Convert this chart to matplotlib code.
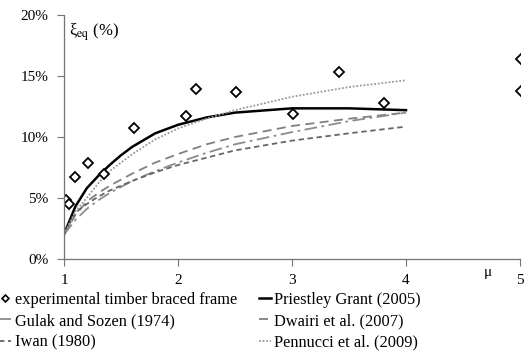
import matplotlib
matplotlib.use("Agg")
import matplotlib.pyplot as plt
from matplotlib.lines import Line2D

plt.rcParams['font.family'] = ['Liberation Serif', 'DejaVu Serif']
plt.rcParams['mathtext.fontset'] = 'stix'

# Test results (ductility, equivalent damping in %)
mu_test = [1.02, 1.04, 1.10, 1.21, 1.35, 1.61, 2.07, 2.16, 2.51, 3.01, 3.41, 3.81, 5.01, 5.01]
xi_test = [4.8, 4.5, 6.7, 7.9, 7.0, 10.7, 11.7, 13.9, 13.7, 11.9, 15.3, 12.75, 16.4, 13.8]

# Damping models, read along the ductility axis
mu_model = [1.0, 1.1, 1.2, 1.3, 1.4, 1.5, 1.6, 1.8, 2.0, 2.25, 2.5, 3.0, 3.5, 4.0]
xi_priestley = [2.0, 4.3, 5.8, 6.8, 7.7, 8.5, 9.2, 10.3, 11.0, 11.6, 12.0, 12.35, 12.35, 12.2]
xi_gulak = [2.0, 3.2, 4.1, 4.8, 5.4, 5.9, 6.4, 7.2, 7.9, 8.7, 9.4, 10.4, 11.3, 12.0]
xi_dwairi = [2.0, 3.6, 4.7, 5.4, 6.0, 6.5, 7.0, 7.9, 8.6, 9.4, 10.0, 10.9, 11.5, 12.0]
xi_iwan = [2.0, 3.8, 4.5, 5.1, 5.6, 6.0, 6.4, 7.1, 7.7, 8.3, 8.9, 9.7, 10.3, 10.85]
xi_pennucci = [2.0, 3.9, 5.0, 6.2, 7.2, 7.9, 8.6, 9.8, 10.7, 11.5, 12.2, 13.3, 14.1, 14.65]

x_ticks = [1, 2, 3, 4, 5]
y_ticks = [0, 5, 10, 15, 20]
y_ticklabels = ['0%', '5%', '10%', '15%', '20%']

fig = plt.figure(figsize=(5.29, 3.6), dpi=100)
ax = fig.add_axes([0.121, 0.281, 0.862, 0.677])

ax.plot(mu_model, xi_priestley, color='black', lw=1.8, ls='-')
ax.plot(mu_model, xi_dwairi, color='0.5', lw=1.3, ls=(0, (5, 3)))
ax.plot(mu_model, xi_gulak, color='0.55', lw=1.3, ls=(0, (7, 2.5, 1.5, 2.5)))
ax.plot(mu_model, xi_iwan, color='0.4', lw=1.3, ls=(0, (3, 2)))
ax.plot(mu_model, xi_pennucci, color='0.6', lw=1.3, ls=(0, (1, 1)))
ax.plot(mu_test, xi_test, ls='none', marker='D', ms=5, mfc='white', mec='black', mew=1.3)

ax.set_xlim(1, 5)
ax.set_ylim(0, 20)
ax.set_xticks(x_ticks)
ax.set_yticks(y_ticks)
ax.set_yticklabels(y_ticklabels)
ax.tick_params(direction='out', length=5, width=0.8, color='0.45', labelsize=11, pad=6)
for s in ['top', 'right']:
    ax.spines[s].set_visible(False)
for s in ['left', 'bottom']:
    ax.spines[s].set_color('0.45')
    ax.spines[s].set_linewidth(0.9)

ax.text(0.012, 0.93, r'ξ$_{\rm eq}$ (%)', transform=ax.transAxes, fontsize=12, va='center')
ax.text(0.93, -0.055, 'μ', transform=ax.transAxes, fontsize=11, ha='center', va='center')

handles = [
    Line2D([], [], ls='none', marker='D', ms=3.5, mfc='white', mec='black', mew=1.2),
    Line2D([], [], color='0.55', lw=1.3, ls=(0, (7, 2.5, 1.5, 2.5))),
    Line2D([], [], color='0.4', lw=1.3, ls=(0, (3, 2))),
    Line2D([], [], color='black', lw=1.8),
    Line2D([], [], color='0.5', lw=1.3, ls=(0, (5, 3))),
    Line2D([], [], color='0.6', lw=1.3, ls=(0, (1, 1))),
]
labels = [
    'experimental timber braced frame',
    'Gulak and Sozen (1974)',
    'Iwan (1980)',
    'Priestley Grant (2005)',
    'Dwairi et al. (2007)',
    'Pennucci et al. (2009)',
]
fig.legend(handles, labels, ncol=2, loc='lower left', bbox_to_anchor=(-0.002, 0.026),
           frameon=False, fontsize=11.8, handlelength=0.75, handletextpad=0.2,
           columnspacing=1.35, labelspacing=0.33, borderaxespad=0.0, borderpad=0.0)

fig.savefig('out.png', dpi=100)
